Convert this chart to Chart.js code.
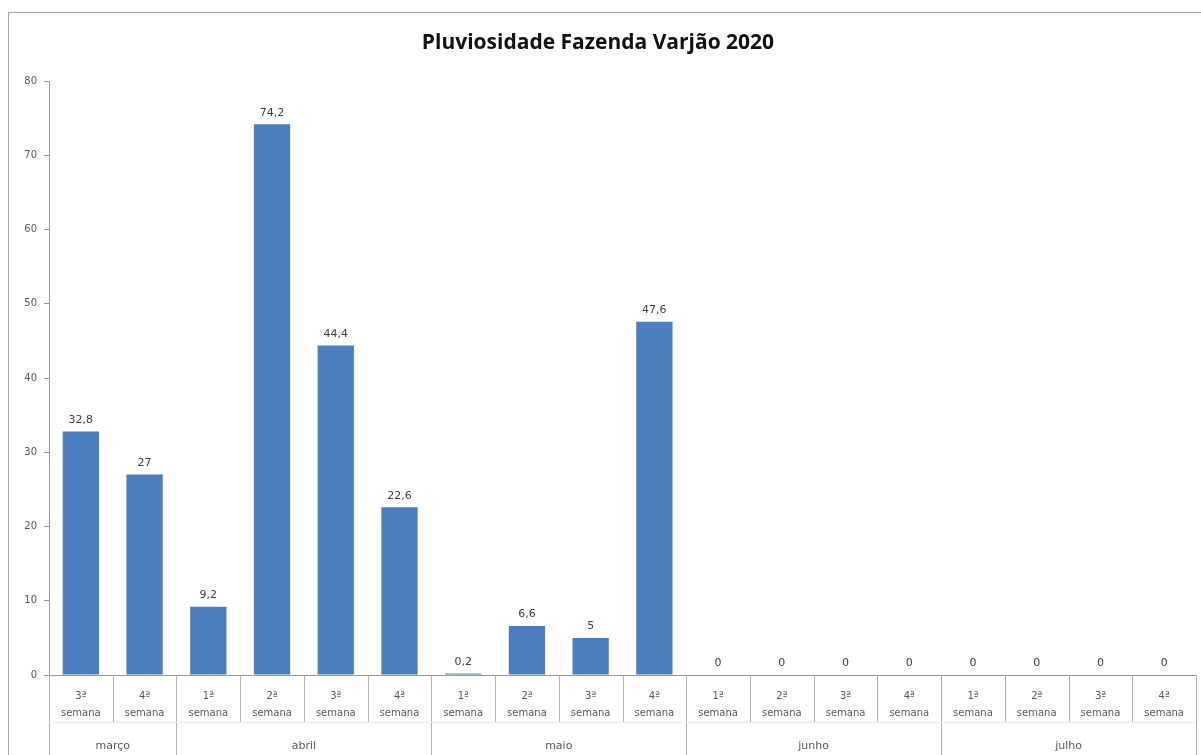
<!DOCTYPE html>
<html>
<head>
<meta charset="utf-8">
<script src="https://cdn.jsdelivr.net/npm/chart.js@4"></script>
<style>
  html, body { margin: 0; padding: 0; background: #fff; }
  #wrap { width: 1201px; height: 755px; position: relative; }
</style>
</head>
<body>
<div id="wrap"><canvas id="chart"></canvas></div>
<script>
const weeks = [
  ['3ª', 'semana'], ['4ª', 'semana'],
  ['1ª', 'semana'], ['2ª', 'semana'], ['3ª', 'semana'], ['4ª', 'semana'],
  ['1ª', 'semana'], ['2ª', 'semana'], ['3ª', 'semana'], ['4ª', 'semana'],
  ['1ª', 'semana'], ['2ª', 'semana'], ['3ª', 'semana'], ['4ª', 'semana'],
  ['1ª', 'semana'], ['2ª', 'semana'], ['3ª', 'semana'], ['4ª', 'semana']
];
const months = ['março', 'abril', 'maio', 'junho', 'julho'];
const monthSizes = [2, 4, 4, 4, 4];
const rain = [32.8, 27, 9.2, 74.2, 44.4, 22.6, 0.2, 6.6, 5, 47.6, 0, 0, 0, 0, 0, 0, 0, 0];
const yTicks = [0, 10, 20, 30, 40, 50, 60, 70, 80];

const fmt = v => String(v).replace('.', ',');

// frame, category grid, month row and value labels
const extras = {
  id: 'extras',
  afterDraw(chart) {
    const ctx = chart.ctx;
    const x = chart.scales.x;
    const area = chart.chartArea;
    const half = (x.getPixelForValue(1) - x.getPixelForValue(0)) / 2;
    const edge = i => x.getPixelForValue(i) - half;

    ctx.save();
    ctx.strokeStyle = '#a6a6a6';
    ctx.lineWidth = 1;
    ctx.strokeRect(8.5, 12.5, 1300, 900);

    // week separators
    ctx.strokeStyle = '#b3b3b3';
    ctx.beginPath();
    for (let i = 0; i <= rain.length; i++) {
      const px = Math.round(edge(i)) + 0.5;
      ctx.moveTo(px, area.bottom);
      ctx.lineTo(px, area.bottom + 47);
    }
    // month separators
    let idx = 0;
    const bounds = [0];
    monthSizes.forEach(n => { idx += n; bounds.push(idx); });
    bounds.forEach(b => {
      const px = Math.round(edge(b)) + 0.5;
      ctx.moveTo(px, area.bottom);
      ctx.lineTo(px, chart.height);
    });
    ctx.stroke();

    ctx.strokeStyle = '#ececec';
    ctx.beginPath();
    ctx.moveTo(area.left, area.bottom + 47.5);
    ctx.lineTo(area.right, area.bottom + 47.5);
    ctx.stroke();

    ctx.fillStyle = '#595959';
    ctx.font = '11px "DejaVu Sans"';
    ctx.textAlign = 'center';
    ctx.textBaseline = 'middle';
    months.forEach((m, k) => {
      const mid = (edge(bounds[k]) + edge(bounds[k + 1])) / 2;
      ctx.fillText(m, mid, area.bottom + 71);
    });

    // value labels
    const meta = chart.getDatasetMeta(0);
    ctx.fillStyle = '#404040';
    ctx.textBaseline = 'bottom';
    meta.data.forEach((bar, i) => {
      ctx.fillText(fmt(rain[i]), bar.x, bar.y - 6);
    });
    ctx.restore();
  }
};

new Chart(document.getElementById('chart'), {
  type: 'bar',
  data: {
    labels: weeks,
    datasets: [{
      data: rain,
      backgroundColor: '#4a7ebe',
      borderWidth: 0,
      barPercentage: 0.57,
      categoryPercentage: 1
    }]
  },
  plugins: [extras],
  options: {
    responsive: true,
    maintainAspectRatio: false,
    animation: false,
    layout: { padding: { left: 0, right: 5, top: 0, bottom: 0 } },
    plugins: {
      legend: { display: false },
      tooltip: { enabled: false },
      title: {
        display: true,
        text: 'Pluviosidade Fazenda Varjão 2020',
        color: '#111',
        font: { family: '"Open Sans"', size: 21, weight: 'bold' },
        padding: { top: 30, bottom: 26 }
      }
    },
    scales: {
      x: {
        offset: true,
        grid: { display: false },
        border: { display: true, color: '#9a9a9a' },
        ticks: {
          color: '#595959',
          font: { family: '"DejaVu Sans"', size: 10, lineHeight: 1.7 },
          padding: 5,
          maxRotation: 0,
          autoSkip: false
        },
        afterFit(scale) { scale.height = 80; }
      },
      y: {
        min: 0,
        max: 80,
        afterBuildTicks(scale) { scale.ticks = yTicks.map(v => ({ value: v })); },
        grid: { drawOnChartArea: false, tickLength: 5, color: '#9a9a9a' },
        border: { display: true, color: '#9a9a9a' },
        ticks: {
          color: '#595959',
          font: { family: '"DejaVu Sans"', size: 10 },
          padding: 7
        },
        afterFit(scale) { scale.width = 49; }
      }
    }
  }
});
</script>
</body>
</html>
